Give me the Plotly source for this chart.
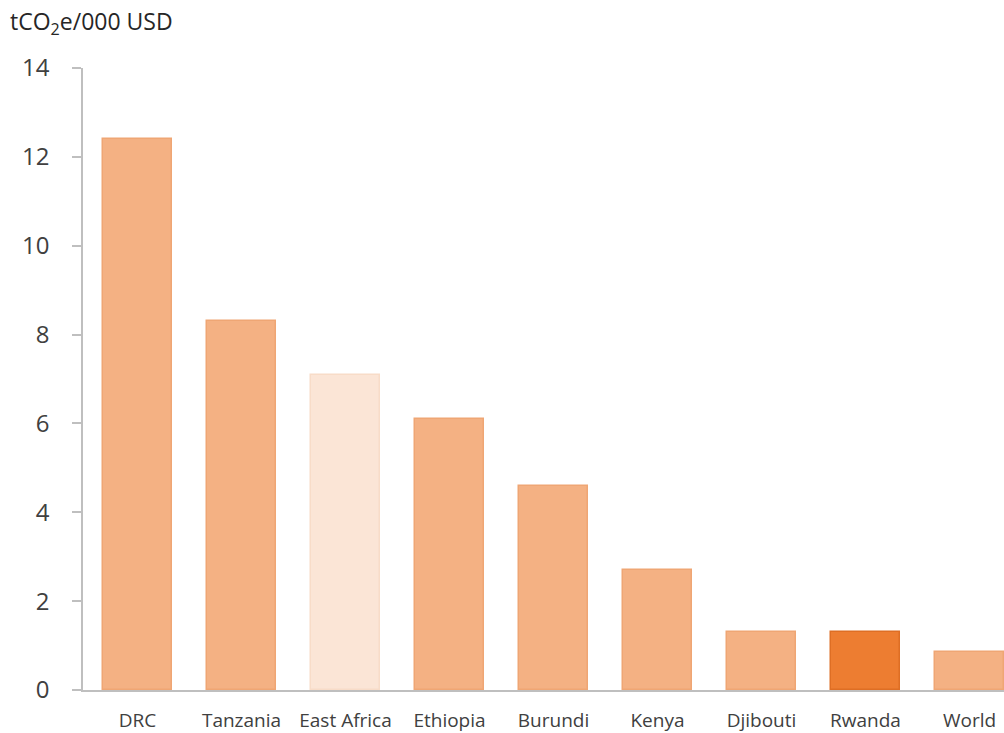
import plotly.graph_objects as go

# Emission intensity by country
categories = ["DRC", "Tanzania", "East Africa", "Ethiopia", "Burundi",
              "Kenya", "Djibouti", "Rwanda", "World"]
values = [12.4, 8.3, 7.1, 6.1, 4.6, 2.7, 1.3, 1.3, 0.86]
y_ticks = [0, 2, 4, 6, 8, 10, 12, 14]

base_fill = "#F4B183"
base_edge = "#EFA674"
fills = [base_fill] * len(categories)
edges = [base_edge] * len(categories)
fills[categories.index("East Africa")] = "#FBE5D6"
edges[categories.index("East Africa")] = "#F8DCC8"
fills[categories.index("Rwanda")] = "#ED7D31"
edges[categories.index("Rwanda")] = "#DE6E24"

W, H = 1004, 733
left, right, top, bottom = 83, 0, 68, 43
plot_w = W - left - right
cat_px = 104.0
x_min = -0.5 - 2.5 / cat_px
x_max = x_min + plot_w / cat_px

fig = go.Figure(go.Bar(
    x=list(range(len(categories))),
    y=values,
    width=0.66,
    marker=dict(color=fills, line=dict(color=edges, width=1.5)),
))

fig.update_layout(
    width=W, height=H,
    margin=dict(l=left, r=right, t=top, b=bottom, pad=0),
    paper_bgcolor="white", plot_bgcolor="white",
    font=dict(family="Open Sans", color="#404040"),
    showlegend=False,
    bargap=0,
)

fig.update_xaxes(
    range=[x_min, x_max],
    tickmode="array",
    tickvals=list(range(len(categories))),
    ticktext=categories,
    tickfont=dict(size=19, color="#404040"),
    showgrid=False, zeroline=False,
    showline=True, linecolor="#BFBFBF", linewidth=1.5,
    ticks="", ticklabelstandoff=12,
)

fig.update_yaxes(
    range=[0, 14],
    tickmode="array",
    tickvals=y_ticks,
    tickfont=dict(size=24, color="#404040"),
    showgrid=False, zeroline=False,
    showline=True, linecolor="#BFBFBF", linewidth=1.5,
    ticks="outside", ticklen=9, tickcolor="#BFBFBF", tickwidth=1.5,
    ticklabelstandoff=18,
)

fig.add_annotation(
    text="tCO<sub>2</sub>e/000 USD",
    xref="paper", yref="paper",
    x=(8 - left) / plot_w, y=1 + (top - 22) / (H - top - bottom),
    xanchor="left", yanchor="middle",
    showarrow=False,
    font=dict(size=23, color="#262626"),
)

fig.write_html("out.html")
